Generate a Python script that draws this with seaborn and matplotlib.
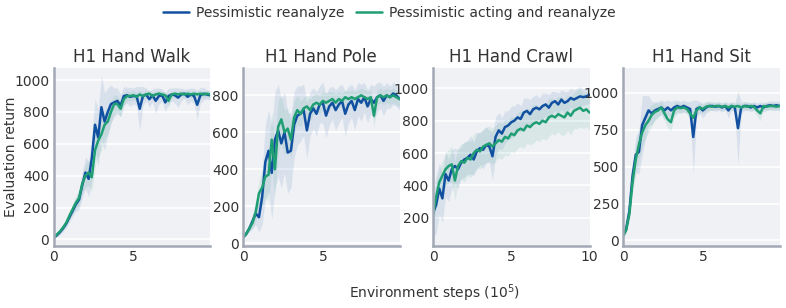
import numpy as np
import pandas as pd
import seaborn as sns
import matplotlib.pyplot as plt
from matplotlib.lines import Line2D

# environment steps (x 1e5)
steps = np.round(np.arange(0, 50) * 0.2, 1)
steps_crawl = np.round(np.arange(0, 51) * 0.2, 1)

methods = ['Pessimistic reanalyze', 'Pessimistic acting and reanalyze']
colors = ['#1150a0', '#1f9e74']

# H1 Hand Walk
walk_blue = [10, 25, 45, 70, 100, 140, 180, 220, 250, 340, 420, 380, 510, 720, 640, 830, 740, 800, 850, 860,
             870, 840, 900, 905, 895, 900, 900, 820, 900, 910, 880, 905, 870, 900, 905, 860, 900, 910, 905, 890,
             910, 915, 895, 910, 900, 845, 905, 915, 910, 905]
walk_green = [10, 30, 50, 75, 105, 150, 190, 230, 260, 350, 400, 420, 390, 560, 620, 660, 720, 740, 800, 850,
              850, 820, 880, 900, 900, 905, 895, 910, 900, 910, 915, 900, 910, 915, 910, 905, 870, 910, 915, 910,
              915, 910, 915, 910, 915, 910, 915, 910, 915, 910]
walk_blue_sd = [5, 10, 15, 20, 25, 30, 35, 45, 60, 80, 100, 110, 140, 160, 180, 200, 180, 150, 120, 90,
                80, 70, 60, 50, 60, 50, 60, 140, 60, 40, 50, 40, 80, 50, 40, 60, 50, 40, 50, 60,
                40, 30, 50, 40, 50, 90, 50, 40, 30, 30]
walk_green_sd = [5, 10, 12, 15, 20, 25, 30, 40, 50, 60, 70, 80, 90, 100, 100, 100, 90, 80, 70, 60,
                 50, 50, 40, 30, 30, 30, 30, 25, 25, 25, 20, 25, 20, 20, 20, 20, 40, 20, 20, 20,
                 20, 20, 20, 20, 20, 20, 20, 20, 20, 20]

# H1 Hand Pole
pole_blue = [30, 50, 80, 120, 160, 140, 250, 440, 500, 380, 560, 610, 540, 600, 490, 500, 640, 690, 700, 720,
             610, 700, 730, 700, 750, 760, 690, 740, 760, 720, 750, 770, 700, 750, 770, 720, 780, 760, 790, 740,
             780, 760, 790, 800, 770, 800, 790, 810, 800, 780]
pole_green = [30, 50, 80, 110, 170, 270, 300, 360, 370, 560, 400, 630, 670, 600, 620, 560, 680, 720, 700, 730,
              740, 720, 750, 760, 750, 770, 760, 770, 780, 760, 780, 770, 790, 780, 790, 780, 790, 800, 790, 780,
              790, 690, 790, 800, 790, 800, 790, 800, 790, 780]
pole_blue_sd = [5, 10, 20, 40, 60, 80, 150, 200, 220, 250, 260, 250, 240, 220, 220, 200, 180, 160, 150, 140,
                150, 120, 110, 120, 100, 110, 120, 100, 90, 110, 100, 90, 120, 100, 90, 110, 90, 100, 80, 90,
                80, 90, 80, 70, 80, 70, 60, 60, 60, 60]
pole_green_sd = [5, 10, 15, 30, 50, 70, 100, 120, 140, 150, 150, 140, 130, 120, 110, 100, 90, 80, 70, 60,
                 60, 60, 50, 50, 50, 50, 50, 50, 40, 50, 40, 40, 40, 40, 40, 40, 40, 40, 40, 40,
                 40, 60, 40, 40, 40, 40, 40, 40, 40, 40]

# H1 Hand Crawl
crawl_blue = [230, 280, 380, 320, 470, 430, 500, 520, 500, 540, 560, 570, 590, 560, 610, 630, 620, 650, 640, 580,
              700, 740, 720, 760, 770, 790, 800, 820, 810, 850, 860, 840, 870, 880, 870, 890, 900, 880, 910, 920,
              900, 930, 910, 920, 940, 930, 940, 950, 945, 950, 960]
crawl_green = [220, 330, 420, 460, 500, 520, 530, 430, 520, 550, 540, 570, 560, 600, 620, 610, 640, 650, 660, 640,
               660, 680, 670, 700, 690, 720, 710, 740, 750, 740, 770, 760, 780, 790, 780, 800, 790, 820, 830, 820,
               840, 830, 820, 850, 830, 860, 870, 880, 860, 870, 850]
crawl_blue_sd = [150, 180, 160, 150, 140, 130, 120, 110, 120, 100, 110, 100, 120, 100, 110, 100, 120, 110, 100, 150,
                 120, 110, 100, 100, 90, 100, 90, 90, 80, 90, 80, 90, 80, 80, 70, 80, 70, 80, 70, 60,
                 70, 60, 70, 60, 60, 60, 60, 60, 50, 50, 50]
crawl_green_sd = [60, 80, 80, 90, 100, 100, 110, 120, 110, 110, 120, 110, 110, 120, 110, 110, 110, 110, 110, 110,
                  110, 110, 110, 110, 110, 110, 110, 110, 110, 110, 110, 110, 120, 110, 110, 110, 110, 120, 110, 110,
                  110, 120, 110, 110, 120, 110, 120, 120, 110, 110, 110]

# H1 Hand Sit
sit_blue = [30, 80, 200, 440, 580, 600, 780, 830, 880, 860, 880, 890, 900, 880, 900, 880, 900, 910, 900, 910,
            900, 890, 700, 890, 900, 880, 900, 910, 910, 905, 910, 900, 910, 880, 910, 900, 760, 900, 910, 910,
            900, 910, 900, 910, 900, 910, 915, 910, 915, 910]
sit_green = [30, 70, 180, 400, 550, 650, 730, 780, 810, 850, 870, 880, 900, 860, 820, 800, 880, 900, 895, 900,
             890, 860, 830, 880, 900, 890, 905, 910, 905, 910, 910, 905, 910, 900, 910, 905, 910, 900, 910, 905,
             910, 905, 880, 860, 910, 905, 910, 910, 905, 910]
sit_blue_sd = [10, 20, 40, 80, 120, 150, 200, 150, 100, 80, 60, 50, 50, 60, 50, 60, 50, 40, 40, 40,
               40, 50, 250, 60, 40, 50, 40, 30, 30, 30, 30, 30, 30, 50, 30, 30, 250, 40, 30, 30,
               30, 30, 30, 30, 30, 30, 30, 30, 30, 30]
sit_green_sd = [10, 20, 40, 80, 100, 100, 100, 90, 80, 70, 60, 50, 40, 50, 60, 60, 50, 40, 30, 30,
                30, 40, 50, 40, 30, 30, 30, 30, 25, 25, 25, 25, 25, 25, 25, 25, 25, 25, 25, 25,
                25, 25, 40, 50, 25, 25, 25, 25, 25, 25]

panels = [
    ('H1 Hand Walk', steps, walk_blue, walk_green, walk_blue_sd, walk_green_sd, (0, 9.8), (-38, 1076), [0, 200, 400, 600, 800, 1000]),
    ('H1 Hand Pole', steps, pole_blue, pole_green, pole_blue_sd, pole_green_sd, (0, 9.8), (-13, 948), [0, 200, 400, 600, 800]),
    ('H1 Hand Crawl', steps_crawl, crawl_blue, crawl_green, crawl_blue_sd, crawl_green_sd, (0, 10), (29, 1125), [200, 400, 600, 800, 1000]),
    ('H1 Hand Sit', steps, sit_blue, sit_green, sit_blue_sd, sit_green_sd, (0, 9.8), (-34, 1167), [0, 250, 500, 750, 1000]),
]

sns.set_theme(style='darkgrid', rc={
    'axes.facecolor': '#eff1f5',
    'grid.color': 'white',
    'grid.linewidth': 1.2,
    'axes.edgecolor': '#a3a8b5',
    'text.color': '#333333',
    'axes.labelcolor': '#333333',
    'xtick.color': '#333333',
    'ytick.color': '#333333',
})
plt.rcParams['font.family'] = ['DejaVu Sans']

fig = plt.figure(figsize=(7.86, 3.08), dpi=100)
lefts = [53.5, 243, 433, 623]
width = 156.5 / 786
bottom = 1 - 245.5 / 308
height = (245.5 - 68) / 308

for i, (title, x, blue, green, bsd, gsd, xlim, ylim, yticks) in enumerate(panels):
    ax = fig.add_axes([lefts[i] / 786, bottom, width, height])
    df = pd.DataFrame({
        'step': np.concatenate([x, x]),
        'ret': np.concatenate([blue, green]),
        'method': [methods[0]] * len(x) + [methods[1]] * len(x),
    })
    for mean, sd, c in [(blue, bsd, colors[0]), (green, gsd, colors[1])]:
        mean = np.array(mean, dtype=float)
        sd = np.array(sd, dtype=float)
        ax.fill_between(x, mean - sd, mean + sd, color=c, alpha=0.1, linewidth=0)
    sns.lineplot(data=df, x='step', y='ret', hue='method', palette=colors, ax=ax,
                 legend=False, linewidth=1.8)
    ax.set_xlim(*xlim)
    ax.set_ylim(*ylim)
    ax.set_yticks(yticks)
    ax.set_xticks([0, 5, 10] if xlim[1] >= 10 else [0, 5])
    ax.grid(axis='x', visible=False)
    ax.grid(axis='y', color='white', linewidth=1.2)
    ax.set_title(title, fontsize=12, pad=4)
    ax.set_xlabel('')
    ax.set_ylabel('')
    ax.tick_params(axis='both', labelsize=10, length=0, pad=3)
    for s in ['top', 'right']:
        ax.spines[s].set_visible(False)
    for s in ['left', 'bottom']:
        ax.spines[s].set_visible(True)
        ax.spines[s].set_linewidth(1.8)
        ax.spines[s].set_color('#a3a8b5')
    if i == 0:
        ax.set_ylabel('Evaluation return', fontsize=10)
        ax.yaxis.set_label_coords((18 - 53.5) / 156.5, 0.5)

fig.text(434 / 786, 1 - 293 / 308, 'Environment steps ($10^5$)', ha='center', va='center', fontsize=10, color='#333333')

handles = [Line2D([0], [0], color=c, linewidth=1.8) for c in colors]
fig.legend(handles, methods, loc='center', bbox_to_anchor=(0.495, 1 - 13 / 308), ncol=2,
           frameon=False, fontsize=10, handlelength=1.9, columnspacing=0.8, handletextpad=0.5)

fig.savefig('out.png', dpi=100)
